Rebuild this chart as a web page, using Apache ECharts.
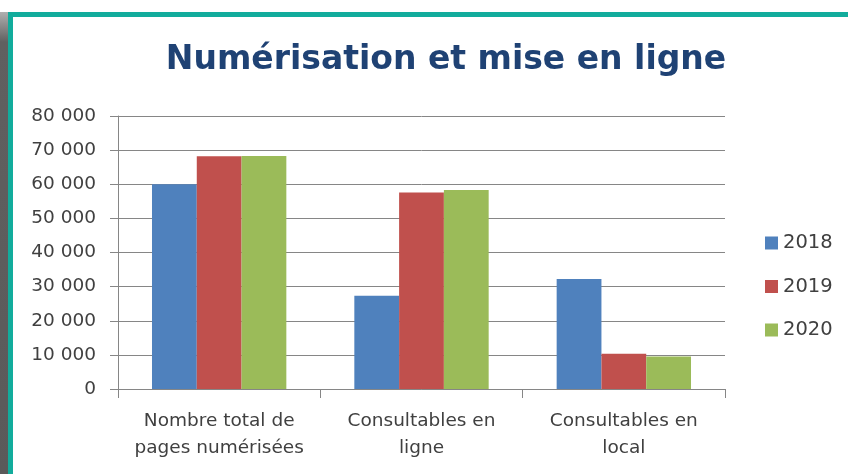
<!DOCTYPE html>
<html><head><meta charset="utf-8">
<script src="https://cdn.jsdelivr.net/npm/echarts@6/dist/echarts.min.js"></script>
<style>
html,body{margin:0;padding:0;background:#fff;}
#wrap{position:relative;width:848px;height:474px;overflow:hidden;background:#fff;}
#shadow{position:absolute;left:0;top:12px;width:8px;height:462px;background:linear-gradient(to bottom,#b0b0b0 0px,#606060 30px,#5a5a5a 100%);}
#tealTop{position:absolute;left:8px;top:12px;width:840px;height:5px;background:#12ac9c;}
#tealLeft{position:absolute;left:8px;top:12px;width:5px;height:462px;background:#12ac9c;}
#chart{position:absolute;left:0;top:0;width:848px;height:474px;}
</style></head>
<body><div id="wrap"><div id="shadow"></div><div id="chart"></div><div id="tealTop"></div><div id="tealLeft"></div></div>
<script>
const categories = ['Nombre total de\npages numérisées', 'Consultables en\nligne', 'Consultables en\nlocal'];
const seriesNames = ['2018', '2019', '2020'];
const values2018 = [60000, 27300, 32200];
const values2019 = [68200, 57600, 10300];
const values2020 = [68300, 58300, 9500];
const colors = ['#4F81BD', '#C0504D', '#9BBB59'];
const titleText = 'Numérisation et mise en ligne';

const chart = echarts.init(document.getElementById('chart'), null, {renderer:'canvas'});
const data = [values2018, values2019, values2020];
chart.setOption({
  animation: false,
  backgroundColor: 'transparent',
  title: {
    text: titleText, left: 446, top: 44, textAlign: 'center', padding: 0,
    textStyle: {fontFamily: 'DejaVu Sans', fontWeight: 'bold', fontSize: 33, color: '#1F4274'}
  },
  legend: {
    orient: 'vertical', left: 765, top: 233, padding: 0, itemWidth: 13, itemHeight: 13, itemGap: 23.5,
    icon: 'rect',
    textStyle: {fontFamily: 'DejaVu Sans', fontSize: 19.5, lineHeight: 20, color: '#404040'},
    data: seriesNames
  },
  grid: {left: 118, right: 123, top: 116, bottom: 85, containLabel: false},
  xAxis: {
    type: 'category', data: categories,
    axisLine: {lineStyle: {color: '#868686', width: 1}},
    axisTick: {show: true, length: 9, lineStyle: {color: '#868686'}},
    axisLabel: {fontFamily: 'DejaVu Sans', fontSize: 18.5, color: '#404040', margin: 19, lineHeight: 27, interval: 0}
  },
  yAxis: {
    type: 'value', min: 0, max: 80000, interval: 10000,
    axisLine: {show: true, lineStyle: {color: '#868686', width: 1}},
    axisTick: {show: true, length: 8, lineStyle: {color: '#868686'}},
    splitLine: {lineStyle: {color: '#868686', width: 1}},
    axisLabel: {
      fontFamily: 'DejaVu Sans', fontSize: 18.5, color: '#404040', margin: 22,
      formatter: v => String(v).replace(/\B(?=(\d{3})+(?!\d))/g, ' ')
    }
  },
  series: seriesNames.map((n, i) => ({
    name: n, type: 'bar', data: data[i], barGap: '0%', barCategoryGap: '33.6%',
    itemStyle: {color: colors[i]}
  }))
});
</script></body></html>
